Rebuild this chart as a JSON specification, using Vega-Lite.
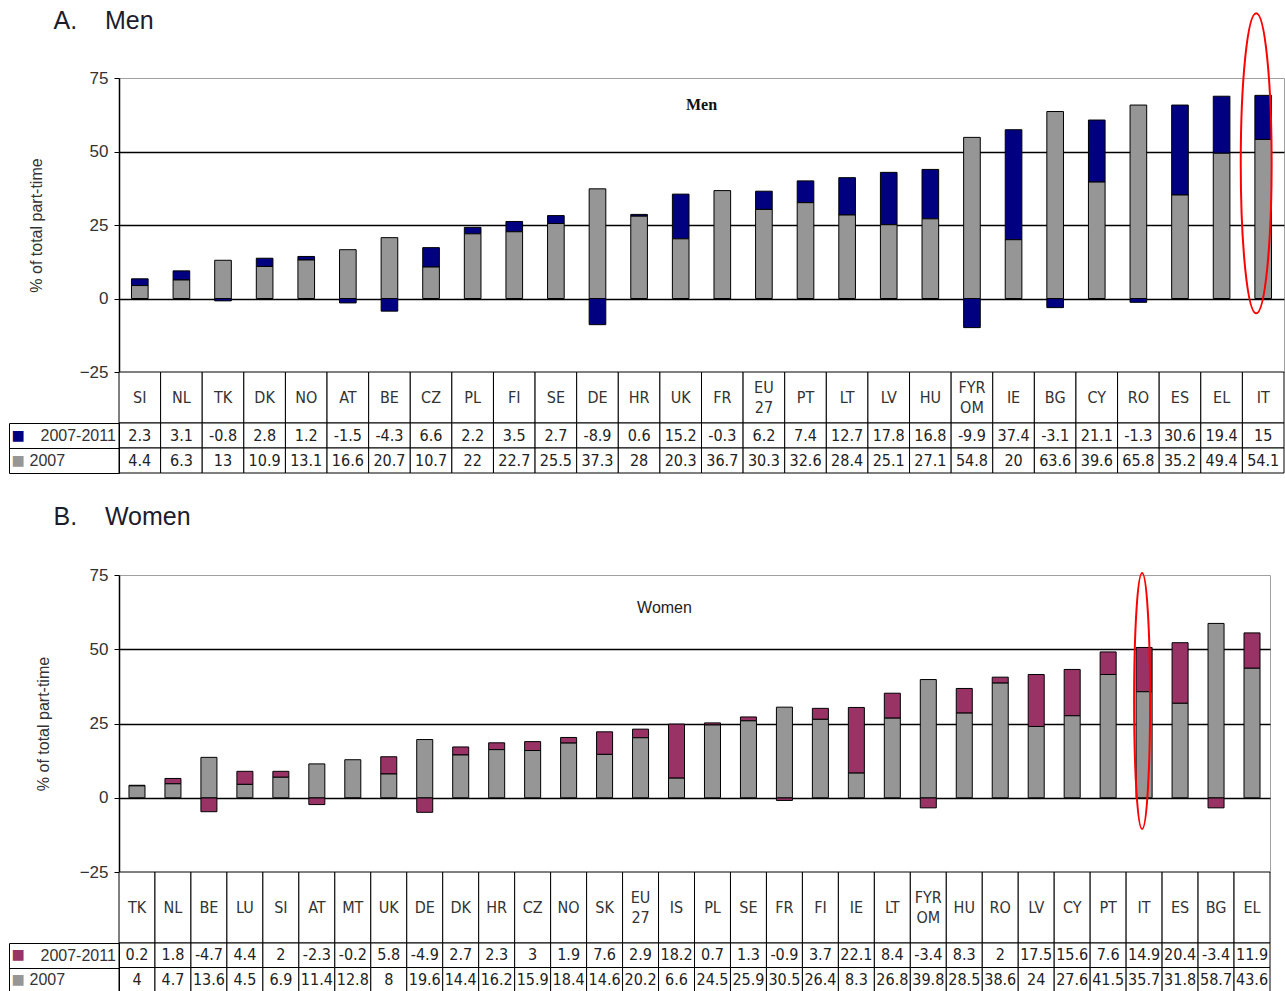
{
  "$schema": "https://vega.github.io/schema/vega-lite/v6.json",
  "padding": {"left": 8, "top": 8, "right": 0, "bottom": 0},
  "background": "white",
  "spacing": 30,
  "resolve": {"scale": {"color": "independent"}},
  "config": {"view": {"stroke": null}, "font": "Liberation Sans"},
  "datasets": {
    "men": [
      {"country":"SI","series":"2007-2011","value":2.3},{"country":"SI","series":"2007","value":4.4},
      {"country":"NL","series":"2007-2011","value":3.1},{"country":"NL","series":"2007","value":6.3},
      {"country":"TK","series":"2007-2011","value":-0.8},{"country":"TK","series":"2007","value":13},
      {"country":"DK","series":"2007-2011","value":2.8},{"country":"DK","series":"2007","value":10.9},
      {"country":"NO","series":"2007-2011","value":1.2},{"country":"NO","series":"2007","value":13.1},
      {"country":"AT","series":"2007-2011","value":-1.5},{"country":"AT","series":"2007","value":16.6},
      {"country":"BE","series":"2007-2011","value":-4.3},{"country":"BE","series":"2007","value":20.7},
      {"country":"CZ","series":"2007-2011","value":6.6},{"country":"CZ","series":"2007","value":10.7},
      {"country":"PL","series":"2007-2011","value":2.2},{"country":"PL","series":"2007","value":22},
      {"country":"FI","series":"2007-2011","value":3.5},{"country":"FI","series":"2007","value":22.7},
      {"country":"SE","series":"2007-2011","value":2.7},{"country":"SE","series":"2007","value":25.5},
      {"country":"DE","series":"2007-2011","value":-8.9},{"country":"DE","series":"2007","value":37.3},
      {"country":"HR","series":"2007-2011","value":0.6},{"country":"HR","series":"2007","value":28},
      {"country":"UK","series":"2007-2011","value":15.2},{"country":"UK","series":"2007","value":20.3},
      {"country":"FR","series":"2007-2011","value":-0.3},{"country":"FR","series":"2007","value":36.7},
      {"country":"EU 27","series":"2007-2011","value":6.2},{"country":"EU 27","series":"2007","value":30.3},
      {"country":"PT","series":"2007-2011","value":7.4},{"country":"PT","series":"2007","value":32.6},
      {"country":"LT","series":"2007-2011","value":12.7},{"country":"LT","series":"2007","value":28.4},
      {"country":"LV","series":"2007-2011","value":17.8},{"country":"LV","series":"2007","value":25.1},
      {"country":"HU","series":"2007-2011","value":16.8},{"country":"HU","series":"2007","value":27.1},
      {"country":"FYR OM","series":"2007-2011","value":-9.9},{"country":"FYR OM","series":"2007","value":54.8},
      {"country":"IE","series":"2007-2011","value":37.4},{"country":"IE","series":"2007","value":20},
      {"country":"BG","series":"2007-2011","value":-3.1},{"country":"BG","series":"2007","value":63.6},
      {"country":"CY","series":"2007-2011","value":21.1},{"country":"CY","series":"2007","value":39.6},
      {"country":"RO","series":"2007-2011","value":-1.3},{"country":"RO","series":"2007","value":65.8},
      {"country":"ES","series":"2007-2011","value":30.6},{"country":"ES","series":"2007","value":35.2},
      {"country":"EL","series":"2007-2011","value":19.4},{"country":"EL","series":"2007","value":49.4},
      {"country":"IT","series":"2007-2011","value":15},{"country":"IT","series":"2007","value":54.1}
    ],
    "women": [
      {"country":"TK","series":"2007-2011","value":0.2},{"country":"TK","series":"2007","value":4},
      {"country":"NL","series":"2007-2011","value":1.8},{"country":"NL","series":"2007","value":4.7},
      {"country":"BE","series":"2007-2011","value":-4.7},{"country":"BE","series":"2007","value":13.6},
      {"country":"LU","series":"2007-2011","value":4.4},{"country":"LU","series":"2007","value":4.5},
      {"country":"SI","series":"2007-2011","value":2},{"country":"SI","series":"2007","value":6.9},
      {"country":"AT","series":"2007-2011","value":-2.3},{"country":"AT","series":"2007","value":11.4},
      {"country":"MT","series":"2007-2011","value":-0.2},{"country":"MT","series":"2007","value":12.8},
      {"country":"UK","series":"2007-2011","value":5.8},{"country":"UK","series":"2007","value":8},
      {"country":"DE","series":"2007-2011","value":-4.9},{"country":"DE","series":"2007","value":19.6},
      {"country":"DK","series":"2007-2011","value":2.7},{"country":"DK","series":"2007","value":14.4},
      {"country":"HR","series":"2007-2011","value":2.3},{"country":"HR","series":"2007","value":16.2},
      {"country":"CZ","series":"2007-2011","value":3},{"country":"CZ","series":"2007","value":15.9},
      {"country":"NO","series":"2007-2011","value":1.9},{"country":"NO","series":"2007","value":18.4},
      {"country":"SK","series":"2007-2011","value":7.6},{"country":"SK","series":"2007","value":14.6},
      {"country":"EU 27","series":"2007-2011","value":2.9},{"country":"EU 27","series":"2007","value":20.2},
      {"country":"IS","series":"2007-2011","value":18.2},{"country":"IS","series":"2007","value":6.6},
      {"country":"PL","series":"2007-2011","value":0.7},{"country":"PL","series":"2007","value":24.5},
      {"country":"SE","series":"2007-2011","value":1.3},{"country":"SE","series":"2007","value":25.9},
      {"country":"FR","series":"2007-2011","value":-0.9},{"country":"FR","series":"2007","value":30.5},
      {"country":"FI","series":"2007-2011","value":3.7},{"country":"FI","series":"2007","value":26.4},
      {"country":"IE","series":"2007-2011","value":22.1},{"country":"IE","series":"2007","value":8.3},
      {"country":"LT","series":"2007-2011","value":8.4},{"country":"LT","series":"2007","value":26.8},
      {"country":"FYR OM","series":"2007-2011","value":-3.4},{"country":"FYR OM","series":"2007","value":39.8},
      {"country":"HU","series":"2007-2011","value":8.3},{"country":"HU","series":"2007","value":28.5},
      {"country":"RO","series":"2007-2011","value":2},{"country":"RO","series":"2007","value":38.6},
      {"country":"LV","series":"2007-2011","value":17.5},{"country":"LV","series":"2007","value":24},
      {"country":"CY","series":"2007-2011","value":15.6},{"country":"CY","series":"2007","value":27.6},
      {"country":"PT","series":"2007-2011","value":7.6},{"country":"PT","series":"2007","value":41.5},
      {"country":"IT","series":"2007-2011","value":14.9},{"country":"IT","series":"2007","value":35.7},
      {"country":"ES","series":"2007-2011","value":20.4},{"country":"ES","series":"2007","value":31.8},
      {"country":"BG","series":"2007-2011","value":-3.4},{"country":"BG","series":"2007","value":58.7},
      {"country":"EL","series":"2007-2011","value":11.9},{"country":"EL","series":"2007","value":43.6}
    ]
  },
  "vconcat": [
    {
      "title": {"text": "A.\u00a0\u00a0\u00a0\u00a0Men", "anchor": "start", "font": "Liberation Sans", "fontSize": 25, "fontWeight": "normal", "color": "#1c1c2c", "offset": -25, "dx": 45},
      "spacing": 0,
      "bounds": "flush",
      "vconcat": [
        {
          "width": 1165, "height": 294,
          "view": {"stroke": "#a0a0a0", "strokeWidth": 1},
          "title": {"text": "Men", "font": "Liberation Serif", "fontSize": 16, "fontWeight": "bold", "color": "#111111", "anchor": "middle", "offset": -104},
          "layer": [
            {
              "data": {"name": "men"},
              "mark": {"type": "bar", "stroke": "black", "strokeWidth": 1},
              "encoding": {
                "x": {"field": "country", "type": "nominal", "sort": null, "axis": null, "scale": {"paddingInner": 0.6, "paddingOuter": 0.3}},
                "y": {"field": "value", "type": "quantitative", "stack": "zero", "scale": {"domain": [-25, 75], "nice": false, "zero": false},
                  "axis": {"values": [-25, 0, 25, 50, 75], "title": "% of total part-time", "titleFont": "Liberation Sans", "titleFontSize": 16, "titleFontWeight": "normal", "titleColor": "#333333", "titlePadding": 35,
                    "labelFont": "Liberation Sans", "labelFontSize": 17, "labelColor": "#333333", "labelPadding": 6, "labelFlush": false,
                    "ticks": true, "tickSize": 5, "tickColor": "black", "tickWidth": 1, "domain": true, "domainColor": "black", "domainWidth": 1.5,
                    "grid": true, "gridColor": "black", "gridWidth": 1.5, "gridOpacity": {"condition": {"test": "datum.value === 75 || datum.value === -25", "value": 0}, "value": 1}}},
                "color": {"field": "series", "type": "nominal", "scale": {"domain": ["2007-2011", "2007"], "range": ["#000080", "#969696"]}, "legend": null},
                "order": {"field": "series", "type": "ordinal", "sort": "ascending"}
              }
            },
            {
              "data": {"values": [{"country": "IT", "center": 46}]},
              "mark": {"type": "point", "shape": "M0,-1C0.0569,-1,0.103,-0.5523,0.103,0C0.103,0.5523,0.0569,1,0,1C-0.0569,1,-0.103,0.5523,-0.103,0C-0.103,-0.5523,-0.0569,-1,0,-1Z", "size": 90000, "filled": false, "stroke": "red", "strokeWidth": 2, "opacity": 1, "xOffset": -7},
              "encoding": {
                "x": {"field": "country", "type": "nominal", "sort": null},
                "y": {"field": "center", "type": "quantitative"}
              }
            }
          ]
        },
        {
          "width": 1165, "height": 51,
          "data": {"name": "men"},
          "transform": [{"filter": "datum.series === '2007'"}],
          "layer": [
            {
              "mark": {"type": "rect", "fill": "white", "stroke": "black", "strokeWidth": 1},
              "encoding": {"x": {"field": "country", "type": "nominal", "sort": null, "axis": null, "scale": {"paddingInner": 0, "paddingOuter": 0}}}
            },
            {
              "mark": {"type": "text", "font": "Liberation Sans Narrow, DejaVu Sans Condensed, Liberation Sans", "fontSize": 16, "color": "#333333", "baseline": "middle"},
              "encoding": {
                "x": {"field": "country", "type": "nominal", "sort": null, "axis": null},
                "text": {"condition": {"test": "indexof(datum.country, ' ') < 0", "field": "country"}, "value": ""}
              }
            },
            {
              "mark": {"type": "text", "lineBreak": " ", "lineHeight": 20, "dy": -10, "font": "Liberation Sans Narrow, DejaVu Sans Condensed, Liberation Sans", "fontSize": 16, "color": "#333333", "baseline": "middle"},
              "encoding": {
                "x": {"field": "country", "type": "nominal", "sort": null, "axis": null},
                "text": {"condition": {"test": "indexof(datum.country, ' ') >= 0", "field": "country"}, "value": ""}
              }
            }
          ]
        },
        {
          "width": 1165, "height": 50,
          "data": {"name": "men"},
          "layer": [
            {
              "mark": {"type": "rect", "fill": "white", "stroke": "black", "strokeWidth": 1},
              "encoding": {
                "x": {"field": "country", "type": "nominal", "sort": null, "axis": null, "scale": {"paddingInner": 0, "paddingOuter": 0}},
                "y": {"field": "series", "type": "nominal", "sort": ["2007-2011", "2007"], "scale": {"paddingInner": 0, "paddingOuter": 0},
                  "axis": {"orient": "left", "title": null, "domain": true, "domainColor": "black", "ticks": true, "tickBand": "extent", "tickSize": 110, "tickColor": "black", "tickWidth": 1,
                    "labelAlign": "left", "labelBaseline": "middle", "labelFont": "Liberation Sans", "labelFontSize": 16, "labelColor": "#333333",
                    "labelPadding": {"condition": {"test": "datum.value === '2007'", "value": -20}, "value": -31}}}
              }
            },
            {
              "mark": {"type": "text", "font": "Liberation Sans Narrow, DejaVu Sans Condensed, Liberation Sans", "fontSize": 16, "color": "#222222"},
              "encoding": {
                "x": {"field": "country", "type": "nominal", "sort": null, "axis": null},
                "y": {"field": "series", "type": "nominal", "sort": ["2007-2011", "2007"],
                  "axis": {"orient": "left", "offset": 110, "title": null, "domain": true, "domainColor": "black", "ticks": false, "tickSize": 0,
                    "labelExpr": "'■'", "labelAlign": "left", "labelBaseline": "middle", "labelFontSize": 22, "labelPadding": -2,
                    "labelColor": {"condition": {"test": "datum.value === '2007'", "value": "#969696"}, "value": "#000080"}}},
                "text": {"field": "value", "type": "nominal"}
              }
            }
          ],
          "resolve": {"axis": {"y": "independent"}}
        }
      ]
    },
    {
      "title": {"text": "B.\u00a0\u00a0\u00a0\u00a0Women", "anchor": "start", "font": "Liberation Sans", "fontSize": 25, "fontWeight": "normal", "color": "#1c1c2c", "offset": 36, "dx": 45},
      "spacing": 0,
      "bounds": "flush",
      "vconcat": [
        {
          "width": 1151, "height": 297,
          "view": {"stroke": "#a0a0a0", "strokeWidth": 1},
          "title": {"text": "Women", "font": "Liberation Sans", "fontSize": 16, "fontWeight": "normal", "color": "#222222", "anchor": "middle", "offset": -50, "dx": -30},
          "layer": [
            {
              "data": {"name": "women"},
              "mark": {"type": "bar", "stroke": "black", "strokeWidth": 1},
              "encoding": {
                "x": {"field": "country", "type": "nominal", "sort": null, "axis": null, "scale": {"paddingInner": 0.555, "paddingOuter": 0.2775}},
                "y": {"field": "value", "type": "quantitative", "stack": "zero", "scale": {"domain": [-25, 75], "nice": false, "zero": false},
                  "axis": {"values": [-25, 0, 25, 50, 75], "title": "% of total part-time", "titleFont": "Liberation Sans", "titleFontSize": 16, "titleFontWeight": "normal", "titleColor": "#333333", "titlePadding": 28,
                    "labelFont": "Liberation Sans", "labelFontSize": 17, "labelColor": "#333333", "labelPadding": 6, "labelFlush": false,
                    "ticks": true, "tickSize": 5, "tickColor": "black", "tickWidth": 1, "domain": true, "domainColor": "black", "domainWidth": 1.5,
                    "grid": true, "gridColor": "black", "gridWidth": 1.5, "gridOpacity": {"condition": {"test": "datum.value === 75 || datum.value === -25", "value": 0}, "value": 1}}},
                "color": {"field": "series", "type": "nominal", "scale": {"domain": ["2007-2011", "2007"], "range": ["#993366", "#969696"]}, "legend": null},
                "order": {"field": "series", "type": "ordinal", "sort": "ascending"}
              }
            },
            {
              "data": {"values": [{"country": "IT", "center": 32.6}]},
              "mark": {"type": "point", "shape": "M0,-1C0.0345,-1,0.0625,-0.5523,0.0625,0C0.0625,0.5523,0.0345,1,0,1C-0.0345,1,-0.0625,0.5523,-0.0625,0C-0.0625,-0.5523,-0.0345,-1,0,-1Z", "size": 65536, "filled": false, "stroke": "red", "strokeWidth": 2, "opacity": 1, "xOffset": -2},
              "encoding": {
                "x": {"field": "country", "type": "nominal", "sort": null},
                "y": {"field": "center", "type": "quantitative"}
              }
            }
          ]
        },
        {
          "width": 1151, "height": 71,
          "data": {"name": "women"},
          "transform": [{"filter": "datum.series === '2007'"}],
          "layer": [
            {
              "mark": {"type": "rect", "fill": "white", "stroke": "black", "strokeWidth": 1},
              "encoding": {"x": {"field": "country", "type": "nominal", "sort": null, "axis": null, "scale": {"paddingInner": 0, "paddingOuter": 0}}}
            },
            {
              "mark": {"type": "text", "font": "Liberation Sans Narrow, DejaVu Sans Condensed, Liberation Sans", "fontSize": 16, "color": "#333333", "baseline": "middle"},
              "encoding": {
                "x": {"field": "country", "type": "nominal", "sort": null, "axis": null},
                "text": {"condition": {"test": "indexof(datum.country, ' ') < 0", "field": "country"}, "value": ""}
              }
            },
            {
              "mark": {"type": "text", "lineBreak": " ", "lineHeight": 20, "dy": -10, "font": "Liberation Sans Narrow, DejaVu Sans Condensed, Liberation Sans", "fontSize": 16, "color": "#333333", "baseline": "middle"},
              "encoding": {
                "x": {"field": "country", "type": "nominal", "sort": null, "axis": null},
                "text": {"condition": {"test": "indexof(datum.country, ' ') >= 0", "field": "country"}, "value": ""}
              }
            }
          ]
        },
        {
          "width": 1151, "height": 49,
          "data": {"name": "women"},
          "layer": [
            {
              "mark": {"type": "rect", "fill": "white", "stroke": "black", "strokeWidth": 1},
              "encoding": {
                "x": {"field": "country", "type": "nominal", "sort": null, "axis": null, "scale": {"paddingInner": 0, "paddingOuter": 0}},
                "y": {"field": "series", "type": "nominal", "sort": ["2007-2011", "2007"], "scale": {"paddingInner": 0, "paddingOuter": 0},
                  "axis": {"orient": "left", "title": null, "domain": true, "domainColor": "black", "ticks": true, "tickBand": "extent", "tickSize": 110, "tickColor": "black", "tickWidth": 1,
                    "labelAlign": "left", "labelBaseline": "middle", "labelFont": "Liberation Sans", "labelFontSize": 16, "labelColor": "#333333",
                    "labelPadding": {"condition": {"test": "datum.value === '2007'", "value": -20}, "value": -31}}}
              }
            },
            {
              "mark": {"type": "text", "font": "Liberation Sans Narrow, DejaVu Sans Condensed, Liberation Sans", "fontSize": 16, "color": "#222222"},
              "encoding": {
                "x": {"field": "country", "type": "nominal", "sort": null, "axis": null},
                "y": {"field": "series", "type": "nominal", "sort": ["2007-2011", "2007"],
                  "axis": {"orient": "left", "offset": 110, "title": null, "domain": true, "domainColor": "black", "ticks": false, "tickSize": 0,
                    "labelExpr": "'■'", "labelAlign": "left", "labelBaseline": "middle", "labelFontSize": 22, "labelPadding": -2,
                    "labelColor": {"condition": {"test": "datum.value === '2007'", "value": "#969696"}, "value": "#993366"}}},
                "text": {"field": "value", "type": "nominal"}
              }
            }
          ],
          "resolve": {"axis": {"y": "independent"}}
        }
      ]
    }
  ]
}
